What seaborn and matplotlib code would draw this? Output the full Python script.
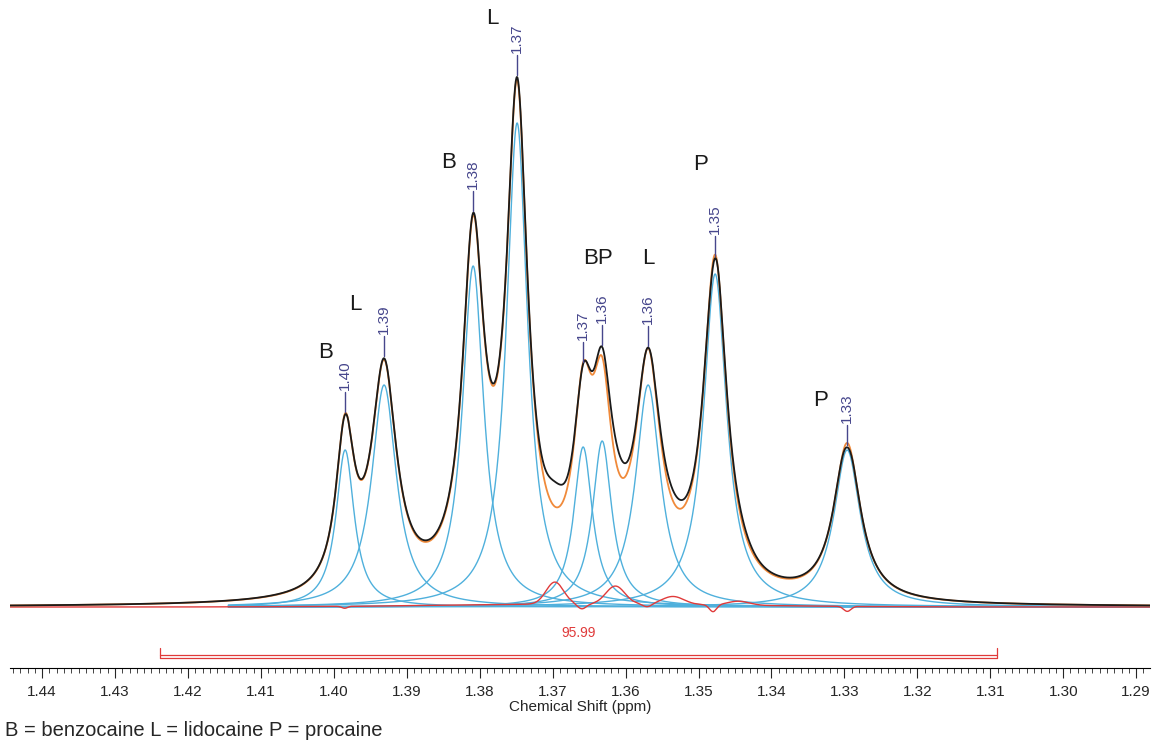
import numpy as np
import pandas as pd
import matplotlib
matplotlib.use("Agg")
import matplotlib.pyplot as plt
from matplotlib.ticker import MultipleLocator, FormatStrFormatter
import seaborn as sns

# fitted components (centre ppm, height, half width ppm)
peak_ppm = [1.39845, 1.39311, 1.38090, 1.37487, 1.36582, 1.36321, 1.35691, 1.34772, 1.32962]
peak_height = [157, 222, 341, 484, 160, 166, 222, 333, 157]
peak_hwhm = [0.00151, 0.00206, 0.00178, 0.00175, 0.00155, 0.00160, 0.00206, 0.00192, 0.00219]

# residual (measured - fit) bumps: centre ppm, amplitude, width ppm
resid_ppm = [1.3697, 1.3660, 1.3614, 1.3570, 1.3535, 1.3480, 1.3445, 1.3296, 1.3985, 1.3650]
resid_amp = [22, -5, 18, -3, 8, -7, 4, -5, -2, 3]
resid_sig = [0.0012, 0.0006, 0.0013, 0.0006, 0.0015, 0.0005, 0.0015, 0.0005, 0.0004, 0.0200]

# compound letters above the peaks
letter_text = ["B", "L", "B", "L", "BP", "L", "P", "P"]
letter_ppm = [1.40112, 1.39708, 1.38433, 1.37830, 1.36376, 1.35690, 1.34978, 1.33332]
letter_y = [255, 302, 444, 589, 349, 349, 442, 207]

# integration region
integ_start, integ_end, integ_value = 1.4238, 1.3091, 95.99

sns.set_style("white")
plt.rcParams['font.family'] = ['Liberation Sans', 'DejaVu Sans']

BLACK = "#1a1a1a"
ORANGE = "#f08a3a"
CYAN = "#4fb0dc"
RED = "#e03a3a"
LBLUE = "#46468c"

fig = plt.figure(figsize=(11.52, 7.40), dpi=100)
ax = fig.add_axes([10 / 1152, 72 / 740, 1140 / 1152, 668 / 740])

xmin, xmax = 1.2881, 1.4444
ppm = np.linspace(xmin, xmax, 4000)


def lorentz(x, c, h, w):
    return h / (1 + ((x - c) / w) ** 2)


comps = [lorentz(ppm, c, h, w) for c, h, w in zip(peak_ppm, peak_height, peak_hwhm)]
fit = np.sum(comps, axis=0)
resid = np.zeros_like(ppm)
for c, a, s in zip(resid_ppm, resid_amp, resid_sig):
    resid += a * np.exp(-0.5 * ((ppm - c) / s) ** 2)
measured = fit + resid

# components only drawn over the fitted window
m = ppm <= 1.4145
for comp in comps:
    sns.lineplot(x=ppm[m], y=comp[m], color=CYAN, lw=1.0, ax=ax, zorder=2)
sns.lineplot(x=ppm, y=resid, color=RED, lw=1.0, ax=ax, zorder=3)
sns.lineplot(x=ppm, y=fit, color=ORANGE, lw=1.3, ax=ax, zorder=4)
sns.lineplot(x=ppm, y=measured, color=BLACK, lw=1.3, ax=ax, zorder=5)

# peak picking labels
for c in peak_ppm:
    top = measured[np.argmin(np.abs(ppm - c))]
    ax.plot([c, c], [top + 2, top + 22], color=LBLUE, lw=1.0, zorder=6)
    ax.text(c, top + 24, f"{c:.2f}", rotation=90, ha="center", va="bottom",
            fontsize=11, color=LBLUE)

for t, x, y in zip(letter_text, letter_ppm, letter_y):
    ax.text(x, y, t, ha="center", va="center", fontsize=16, color=BLACK)

# integration bracket
for yy in (-48, -51):
    ax.plot([integ_start, integ_end], [yy, yy], color=RED, lw=0.9, clip_on=False)
for xx in (integ_start, integ_end):
    ax.plot([xx, xx], [-41, -51], color=RED, lw=0.9, clip_on=False)
ax.text((integ_start + integ_end) / 2, -26, f"{integ_value:.2f}", ha="center",
        va="center", fontsize=10, color=RED)

ax.set_xlim(xmax, xmin)
ax.set_ylim(-61, 607)
for s in ("left", "top", "right"):
    ax.spines[s].set_visible(False)
ax.spines["bottom"].set_color("black")
ax.spines["bottom"].set_linewidth(0.8)
ax.set_yticks([])
ax.set_ylabel("")
ax.xaxis.set_major_locator(MultipleLocator(0.01))
ax.xaxis.set_minor_locator(MultipleLocator(0.001))
ax.xaxis.set_major_formatter(FormatStrFormatter("%.2f"))
ax.tick_params(axis="x", which="major", length=7, width=0.8, direction="out",
               labelsize=11, pad=5, bottom=True)
ax.tick_params(axis="x", which="minor", length=3.5, width=0.6, direction="out", bottom=True)
ax.set_xlabel("Chemical Shift (ppm)", fontsize=11, labelpad=1)

fig.text(5 / 1152, 1 - 730 / 740, "B = benzocaine L = lidocaine P = procaine",
         fontsize=14.5, va="center", ha="left")

fig.savefig("out.png", dpi=100)
